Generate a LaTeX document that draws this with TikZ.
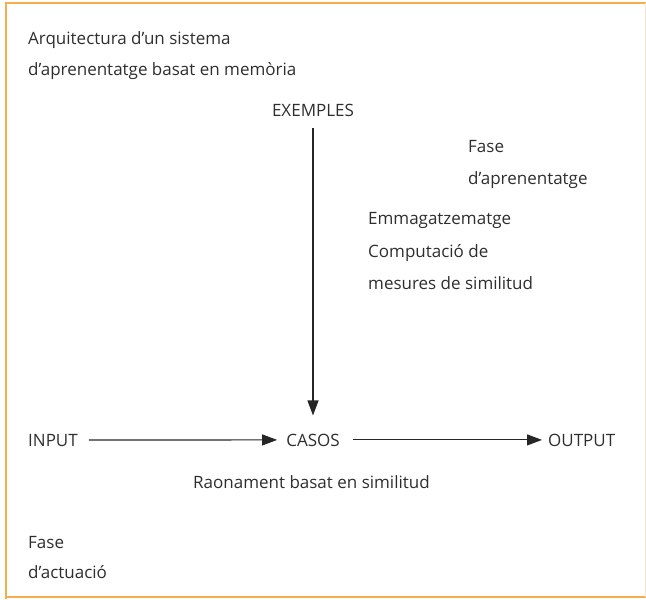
\documentclass[tikz,border=0pt]{standalone}
\usepackage{fontspec}
\setmainfont{Open Sans}
\usetikzlibrary{arrows.meta}
\definecolor{frameorange}{HTML}{F7AD4A}
\definecolor{framelight}{HTML}{FCE6C6}
\definecolor{textgrey}{HTML}{2E2E2E}

\begin{document}
\begin{tikzpicture}[x=1pt,y=-1pt,every node/.style={text=textgrey,font=\fontsize{17}{20}\selectfont},
	txt/.style={anchor=base west,inner sep=0pt},
	word/.style={anchor=base,inner sep=0pt},
	flow/.style={draw=black!85,line width=1.1pt,-{Triangle[length=15pt,width=11pt]}}]
	\useasboundingbox (0,0) rectangle (646,600);
	\draw[frameorange,line width=1.6pt] (6,599) -- (6,3) -- (646,3);
	\draw[frameorange,line width=1.6pt] (6,597) -- (646,597);
	\draw[framelight,line width=1pt] (645,3) -- (645,597);
	\node[txt] (title1) at (28,44) {Arquitectura d'un sistema};
	\node[txt] (title2) at (28,75) {d'aprenentatge basat en memòria};
	\node[word] (exemples) at (313,116) {EXEMPLES};
	\node[txt] (fase1) at (468,152) {Fase};
	\node[txt] (fase2) at (468,184) {d'aprenentatge};
	\node[txt] (emm) at (368,224) {Emmagatzematge};
	\node[txt] (comp) at (368,257) {Computació de};
	\node[txt] (mes) at (368,289) {mesures de similitud};
	\node[txt] (input) at (28,446) {INPUT};
	\node[word] (casos) at (313,446) {CASOS};
	\node[txt] (output) at (548,446) {OUTPUT};
	\node[txt] (raon) at (193,488) {Raonament basat en similitud};
	\node[txt] (act1) at (28,548) {Fase};
	\node[txt] (act2) at (28,578) {d'actuació};
	\draw[flow,shorten <=11pt,shorten >=9pt] (input.east) -- (casos.west);
	\draw[flow,shorten <=13pt,shorten >=6pt] (casos.east) -- (output.west);
	\draw[flow,shorten <=12pt,shorten >=18pt] (exemples.south) -- (casos.north);
\end{tikzpicture}
\end{document}
